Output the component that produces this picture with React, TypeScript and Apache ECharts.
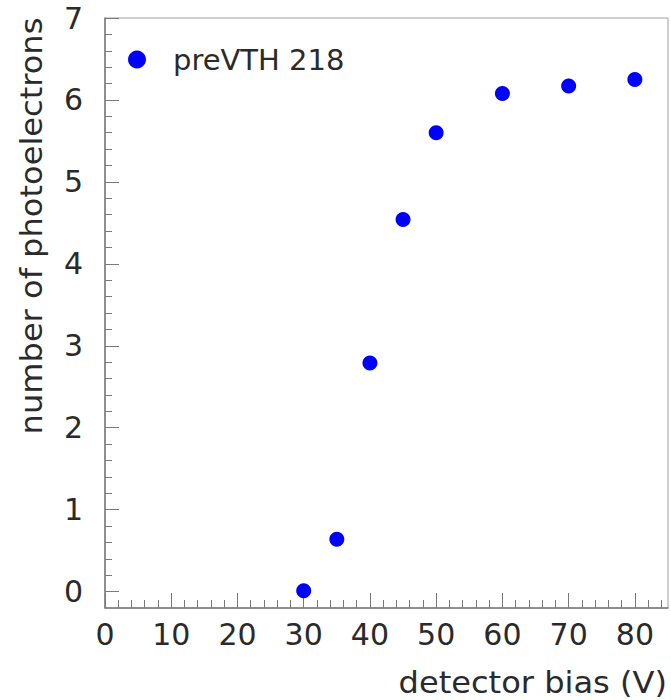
import React, { useEffect, useRef } from "react";
import * as echarts from "echarts";

const biasVolts = [30, 35, 40, 45, 50, 60, 70, 80];
const photoelectrons = [0.01, 0.64, 2.79, 4.54, 5.6, 6.08, 6.17, 6.25];
const seriesName = "preVTH 218";

const xMajorTicks = [0, 10, 20, 30, 40, 50, 60, 70, 80];
const xMinorTicks = [2, 4, 6, 8, 12, 14, 16, 18, 22, 24, 26, 28, 32, 34, 36, 38, 42, 44, 46, 48, 52, 54, 56, 58, 62, 64, 66, 68, 72, 74, 76, 78, 82, 84];
const yMajorTicks = [0, 1, 2, 3, 4, 5, 6, 7];
const yMinorTicks = [0.2, 0.4, 0.6, 0.8, 1.2, 1.4, 1.6, 1.8, 2.2, 2.4, 2.6, 2.8, 3.2, 3.4, 3.6, 3.8, 4.2, 4.4, 4.6, 4.8, 5.2, 5.4, 5.6, 5.8, 6.2, 6.4, 6.6, 6.8];

const FONT = "DejaVu Sans";
const AXIS_COLOR = "#7a7a7a";
const TEXT_COLOR = "#2a2a2a";

export default function App() {
  const ref = useRef<HTMLDivElement>(null);
  useEffect(() => {
    if (!ref.current) return;
    const chart = echarts.init(ref.current, null, { renderer: "svg" });
    chart.setOption({
      animation: false,
      backgroundColor: "#ffffff",
      grid: {
        left: 105,
        right: 3,
        top: 18,
        bottom: 92,
        show: true,
        borderColor: "#a0a0a0",
        borderWidth: 1,
      },
      legend: {
        left: 128,
        top: 45,
        padding: 0,
        icon: "circle",
        itemWidth: 18,
        itemHeight: 18,
        data: [seriesName],
        textStyle: { fontFamily: FONT, fontSize: 29, color: TEXT_COLOR, padding: [0, 0, 0, 22] },
      },
      xAxis: [
        {
          type: "value",
          min: 0,
          max: 85,
          axisLine: { show: true, onZero: false, lineStyle: { color: AXIS_COLOR, width: 1.5 } },
          axisTick: { show: true, inside: true, length: 15, customValues: xMajorTicks, lineStyle: { color: AXIS_COLOR } },
          axisLabel: { customValues: xMajorTicks, fontFamily: FONT, fontSize: 30, color: TEXT_COLOR, margin: 11 },
          splitLine: { show: false },
        },
        {
          type: "value",
          min: 0,
          max: 85,
          position: "bottom",
          axisLine: { show: false, onZero: false },
          axisTick: { show: true, inside: true, length: 8, customValues: xMinorTicks, lineStyle: { color: AXIS_COLOR } },
          axisLabel: { show: false },
          splitLine: { show: false },
        },
      ],
      yAxis: [
        {
          type: "value",
          min: -0.2,
          max: 7,
          axisLine: { show: true, onZero: false, lineStyle: { color: AXIS_COLOR, width: 1.5 } },
          axisTick: { show: true, inside: true, length: 14, customValues: yMajorTicks, lineStyle: { color: AXIS_COLOR } },
          axisLabel: { customValues: yMajorTicks, fontFamily: FONT, fontSize: 30, color: TEXT_COLOR, margin: 22 },
          splitLine: { show: false },
        },
        {
          type: "value",
          min: -0.2,
          max: 7,
          position: "left",
          axisLine: { show: false, onZero: false },
          axisTick: { show: true, inside: true, length: 7, customValues: yMinorTicks, lineStyle: { color: AXIS_COLOR } },
          axisLabel: { show: false },
          splitLine: { show: false },
        },
      ],
      graphic: [
        {
          type: "text",
          x: 31,
          y: 226,
          rotation: Math.PI / 2,
          scaleX: 1.07,
          style: {
            text: "number of photoelectrons",
            fontFamily: FONT,
            fontSize: 30,
            fill: TEXT_COLOR,
            textAlign: "center",
            textVerticalAlign: "middle",
          },
        },
        {
          type: "text",
          x: 667,
          y: 682,
          scaleX: 1.07,
          style: {
            text: "detector bias (V)",
            fontFamily: FONT,
            fontSize: 30,
            fill: TEXT_COLOR,
            textAlign: "right",
            textVerticalAlign: "middle",
          },
        },
      ],
      series: [
        {
          name: seriesName,
          type: "scatter",
          xAxisIndex: 0,
          yAxisIndex: 0,
          symbol: "circle",
          symbolSize: 15,
          itemStyle: { color: "#0000ff", opacity: 1 },
          data: biasVolts.map((v, i) => [v, photoelectrons[i]]),
        },
      ],
    });
    return () => chart.dispose();
  }, []);
  return <div ref={ref} style={{ position: "absolute", left: 0, top: 0, width: 671, height: 700 }} />;
}
